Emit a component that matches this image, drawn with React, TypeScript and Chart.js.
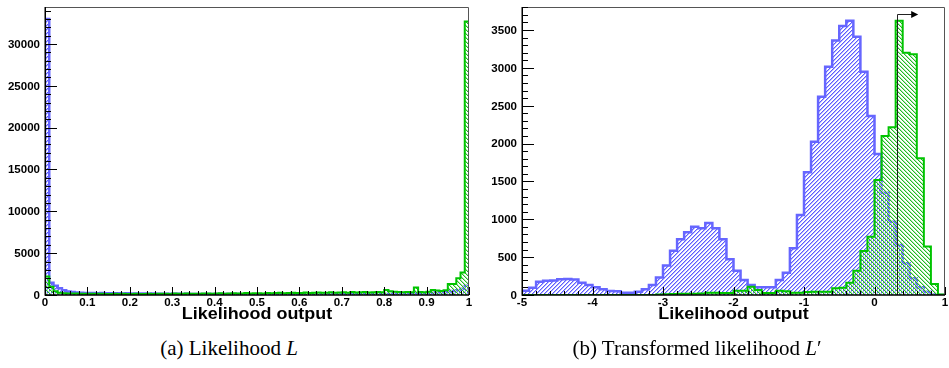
import React, { useEffect, useRef } from 'react';
import { Chart, registerables } from 'chart.js';

Chart.register(...registerables);

// ---------- (a) Likelihood L : 100 bins on [0, 1] ----------
const likeRange = [0, 1];
const likeBlue = [
  33000, 1450, 1100, 800, 560, 420, 350, 300, 270, 250,
  240, 250, 220, 230, 210, 220, 200, 205, 190, 195,
  180, 185, 170, 175, 160, 170, 150, 160, 145, 150,
  140, 145, 130, 140, 125, 130, 120, 125, 115, 120,
  110, 115, 105, 110, 100, 108, 98, 102, 95, 100,
  92, 96, 90, 94, 88, 92, 86, 90, 85, 88,
  84, 88, 82, 86, 84, 88, 85, 90, 86, 92,
  90, 95, 92, 98, 96, 102, 100, 108, 104, 112,
  124, 130, 138, 146, 155, 165, 178, 190, 205, 220,
  240, 265, 290, 320, 360, 410, 480, 580, 750, 1100,
];
const likeGreen = [
  2200, 1000, 450, 280, 220, 190, 175, 165, 158, 150,
  150, 140, 135, 160, 130, 125, 150, 120, 135, 130,
  125, 140, 120, 130, 150, 125, 135, 160, 140, 130,
  170, 150, 140, 180, 155, 160, 150, 190, 165, 150,
  175, 200, 160, 180, 210, 170, 190, 230, 180, 200,
  220, 190, 240, 200, 230, 260, 210, 240, 270, 230,
  250, 290, 240, 270, 300, 260, 280, 320, 270, 300,
  330, 280, 350, 300, 320, 370, 310, 340, 360, 330,
  600, 450, 380, 350, 330, 360, 340, 900, 360, 340,
  380, 600, 550, 480, 560, 1300, 1300, 2000, 2700, 32700,
];
const likeYMax = 34422;
const likeXTicks = [0, 0.1, 0.2, 0.3, 0.4, 0.5, 0.6, 0.7, 0.8, 0.9, 1];
const likeXLabels = ['0', '0.1', '0.2', '0.3', '0.4', '0.5', '0.6', '0.7', '0.8', '0.9', '1'];
const likeXMinorStep = 0.02;
const likeYTicks = [0, 5000, 10000, 15000, 20000, 25000, 30000];
const likeYLabels = ['0', '5000', '10000', '15000', '20000', '25000', '30000'];
const likeYMinorStep = 1000;

// ---------- (b) Transformed likelihood L' : 60 bins on [-5, 1] ----------
const transRange = [-5, 1];
const transBlue = [
  57, 97, 176, 189, 192, 207, 210, 205, 163, 132,
  101, 75, 53, 50, 31, 30, 44, 75, 132, 230,
  390, 585, 736, 830, 900, 881, 950, 881, 736, 471,
  321, 198, 132, 101, 101, 101, 198, 295, 617, 1057,
  1620, 2025, 2620, 3016, 3360, 3553, 3623, 3412, 2950, 2365,
  1863, 1351, 968, 660, 419, 220, 101, 44, 8, 0,
];
const transGreen = [
  0, 0, 0, 0, 0, 0, 0, 0, 0, 0,
  0, 0, 0, 0, 0, 0, 0, 0, 0, 5,
  10, 12, 15, 15, 18, 20, 30, 30, 25, 28,
  57, 55, 110, 66, 28, 28, 57, 50, 31, 31,
  40, 44, 44, 44, 88, 95, 163, 320, 580, 770,
  1519, 2100, 2215, 3623, 3200, 3180, 1806, 640, 145, 5,
];
const transYMax = 3804;
const transXTicks = [-5, -4, -3, -2, -1, 0, 1];
const transXLabels = ['-5', '-4', '-3', '-2', '-1', '0', '1'];
const transXMinorStep = 0.2;
const transYTicks = [0, 500, 1000, 1500, 2000, 2500, 3000, 3500];
const transYLabels = ['0', '500', '1000', '1500', '2000', '2500', '3000', '3500'];
const transYMinorStep = 100;
const cutValue = 0.315;
const cutArrowEnd = 0.62;
const cutArrowLevel = 3710;

const axisTitle = 'Likelihood output';

const BLUE = '#6666ff';
const BLUE_HATCH = '#5c5cff';
const BLUE_HATCH_SOFT = '#b4b4ff';
const GREEN = '#00c400';
const GREEN_HATCH = '#22bb22';
const GREEN_HATCH_SOFT = '#b0e6b0';

function histPoints(vals: number[], lo: number, hi: number) {
  const w = (hi - lo) / vals.length;
  const pts: { x: number; y: number }[] = [{ x: lo, y: 0 }];
  vals.forEach((v, i) => pts.push({ x: lo + i * w, y: v }));
  pts.push({ x: hi, y: vals[vals.length - 1] });
  pts.push({ x: hi, y: 0 });
  return pts;
}

// diagonal hatch tile: a core pixel line with a soft neighbour pixel
function makeHatch(ctx: CanvasRenderingContext2D, color: string, soft: string, dir: number, size: number) {
  const c = document.createElement('canvas');
  c.width = size;
  c.height = size;
  const g = c.getContext('2d')!;
  for (let i = 0; i < size; i++) {
    const y = dir > 0 ? size - 1 - i : i;
    g.fillStyle = soft;
    g.fillRect((i + 1) % size, y, 1, 1);
    g.fillStyle = color;
    g.fillRect(i, y, 1, 1);
  }
  return ctx.createPattern(c, 'repeat')!;
}

function stretchedText(ctx: CanvasRenderingContext2D, text: string, x: number, y: number, align: CanvasTextAlign, sx: number) {
  ctx.save();
  ctx.translate(x, y);
  ctx.scale(sx, 1);
  ctx.textAlign = align;
  ctx.textBaseline = 'alphabetic';
  ctx.fillText(text, 0, 0);
  ctx.restore();
}

interface HistCfg {
  lo: number;
  hi: number;
  yMax: number;
  blue: number[];
  green: number[];
  padRight: number;
  yWidth: number;
  xTicks: number[];
  xLabels: string[];
  xMinor: number;
  yTicks: number[];
  yLabels: string[];
  yMinor: number;
  arrow?: { x: number; end: number; level: number };
}

function makeChart(canvas: HTMLCanvasElement, cfg: HistCfg) {
  const ctx = canvas.getContext('2d')!;
  const blueHatch = makeHatch(ctx, BLUE_HATCH, BLUE_HATCH_SOFT, 1, 4);
  const greenHatch = makeHatch(ctx, GREEN_HATCH, GREEN_HATCH_SOFT, -1, 4);

  const axesPlugin = {
    id: 'rootAxes',
    afterDatasetsDraw(chart: any) {
      const { ctx: c, chartArea: a, scales } = chart;
      const xs = scales.x;
      const ys = scales.y;
      c.save();
      if (cfg.arrow) {
        const px = Math.round(xs.getPixelForValue(cfg.arrow.x)) + 0.5;
        const py = Math.round(ys.getPixelForValue(cfg.arrow.level)) + 0.5;
        const tip = xs.getPixelForValue(cfg.arrow.end);
        c.strokeStyle = '#222';
        c.lineWidth = 1;
        c.beginPath();
        c.moveTo(px, a.bottom);
        c.lineTo(px, py);
        c.lineTo(tip - 6, py);
        c.stroke();
        c.fillStyle = '#000';
        c.beginPath();
        c.moveTo(tip, py);
        c.lineTo(tip - 7, py - 3.5);
        c.lineTo(tip - 7, py + 3.5);
        c.closePath();
        c.fill();
      }
      // frame
      c.strokeStyle = '#555';
      c.lineWidth = 1;
      c.beginPath();
      c.moveTo(a.left, a.top + 0.5);
      c.lineTo(a.right - 0.5, a.top + 0.5);
      c.lineTo(a.right - 0.5, a.bottom);
      c.stroke();
      // axis lines
      c.strokeStyle = '#000';
      c.lineWidth = 1.5;
      c.beginPath();
      c.moveTo(a.left + 0.25, a.top);
      c.lineTo(a.left + 0.25, a.bottom);
      c.lineTo(a.right, a.bottom);
      c.stroke();
      // ticks
      c.lineWidth = 1;
      c.beginPath();
      const nY = Math.round(cfg.yMax / cfg.yMinor);
      for (let i = 0; i <= nY; i++) {
        const v = i * cfg.yMinor;
        const major = cfg.yTicks.some((t) => Math.abs(t - v) < 1e-6);
        const py = Math.round(ys.getPixelForValue(v)) + 0.5;
        c.moveTo(a.left, py);
        c.lineTo(a.left + (major ? 12 : 6), py);
      }
      const nX = Math.round((cfg.hi - cfg.lo) / cfg.xMinor);
      for (let i = 0; i <= nX; i++) {
        const v = cfg.lo + i * cfg.xMinor;
        const major = cfg.xTicks.some((t) => Math.abs(t - v) < 1e-6);
        const px = Math.round(xs.getPixelForValue(v)) + 0.5;
        c.moveTo(px, a.bottom);
        c.lineTo(px, a.bottom - (major ? 8 : 4));
      }
      c.stroke();
      // labels
      c.fillStyle = '#000';
      c.font = 'bold 10.5px "Liberation Sans", Arial, Helvetica, sans-serif';
      cfg.yTicks.forEach((t, i) => {
        const py = ys.getPixelForValue(t);
        stretchedText(c, cfg.yLabels[i], a.left - 5, py + 3.8, 'right', 1.1);
      });
      cfg.xTicks.forEach((t, i) => {
        const px = xs.getPixelForValue(t);
        stretchedText(c, cfg.xLabels[i], px, a.bottom + 11, 'center', 1.1);
      });
      c.font = 'bold 16px "Liberation Sans", Arial, Helvetica, sans-serif';
      stretchedText(c, axisTitle, (a.left + a.right) / 2, a.bottom + 24, 'center', 1.12);
      c.restore();
    },
  };

  return new Chart(canvas, {
    type: 'line',
    data: {
      datasets: [
        {
          data: histPoints(cfg.green, cfg.lo, cfg.hi),
          stepped: 'before',
          borderColor: GREEN,
          borderWidth: 2,
          backgroundColor: greenHatch,
          fill: 'origin',
          pointRadius: 0,
          order: 0,
        },
        {
          data: histPoints(cfg.blue, cfg.lo, cfg.hi),
          stepped: 'before',
          borderColor: BLUE,
          borderWidth: 2.5,
          backgroundColor: blueHatch,
          fill: 'origin',
          pointRadius: 0,
          order: 1,
        },
      ],
    } as any,
    options: {
      responsive: false,
      animation: false,
      events: [],
      layout: { padding: { left: 0, top: 7, right: cfg.padRight, bottom: 0 } },
      plugins: { legend: { display: false }, tooltip: { enabled: false } },
      elements: { point: { radius: 0 }, line: { tension: 0 } },
      scales: {
        x: {
          type: 'linear',
          min: cfg.lo,
          max: cfg.hi,
          grid: { display: false, drawTicks: false },
          border: { display: false },
          ticks: { display: false },
          afterFit: (s: any) => {
            s.height = 35;
            s.paddingLeft = 0;
            s.paddingRight = 0;
          },
        },
        y: {
          type: 'linear',
          min: 0,
          max: cfg.yMax,
          grid: { display: false, drawTicks: false },
          border: { display: false },
          ticks: { display: false },
          afterFit: (s: any) => {
            s.width = cfg.yWidth;
            s.paddingTop = 0;
            s.paddingBottom = 0;
          },
        },
      },
    } as any,
    plugins: [axesPlugin],
  });
}

const captionStyle = (center: number): React.CSSProperties => ({
  position: 'absolute',
  left: center - 200,
  width: 400,
  top: 338,
  textAlign: 'center',
  fontFamily: '"Liberation Serif", "DejaVu Serif", serif',
  fontSize: 21,
  lineHeight: '21px',
  color: '#000',
  whiteSpace: 'nowrap',
});

export default function App() {
  const leftRef = useRef<HTMLCanvasElement>(null);
  const rightRef = useRef<HTMLCanvasElement>(null);

  useEffect(() => {
    const left = makeChart(leftRef.current!, {
      lo: likeRange[0],
      hi: likeRange[1],
      yMax: likeYMax,
      blue: likeBlue,
      green: likeGreen,
      padRight: 11,
      yWidth: 45,
      xTicks: likeXTicks,
      xLabels: likeXLabels,
      xMinor: likeXMinorStep,
      yTicks: likeYTicks,
      yLabels: likeYLabels,
      yMinor: likeYMinorStep,
    });
    const right = makeChart(rightRef.current!, {
      lo: transRange[0],
      hi: transRange[1],
      yMax: transYMax,
      blue: transBlue,
      green: transGreen,
      padRight: 4,
      yWidth: 52,
      xTicks: transXTicks,
      xLabels: transXLabels,
      xMinor: transXMinorStep,
      yTicks: transYTicks,
      yLabels: transYLabels,
      yMinor: transYMinorStep,
      arrow: { x: cutValue, end: cutArrowEnd, level: cutArrowLevel },
    });
    return () => {
      left.destroy();
      right.destroy();
    };
  }, []);

  return (
    <div style={{ position: 'fixed', left: 0, top: 0, width: 949, height: 368, background: '#fff', overflow: 'hidden' }}>
      <canvas ref={leftRef} width={480} height={330} style={{ position: 'absolute', left: 0, top: 0, width: 480, height: 330 }} />
      <canvas ref={rightRef} width={479} height={330} style={{ position: 'absolute', left: 470, top: 0, width: 479, height: 330 }} />
      <div style={captionStyle(229)}>
        (a) Likelihood <i>L</i>
      </div>
      <div style={captionStyle(697)}>
        (b) Transformed likelihood <i>L</i>′
      </div>
    </div>
  );
}
